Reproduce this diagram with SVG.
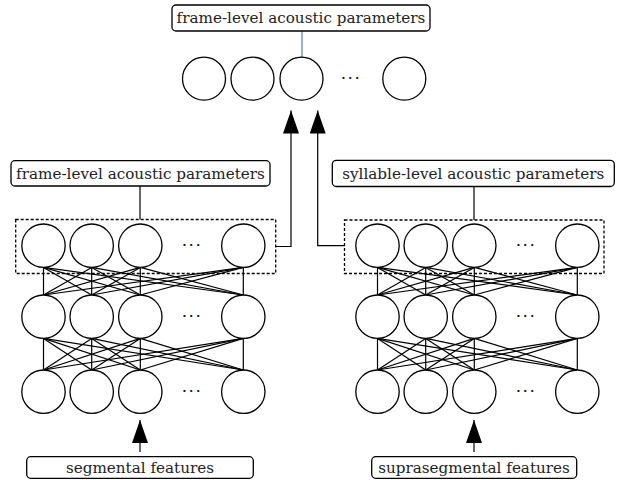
<svg xmlns="http://www.w3.org/2000/svg" width="624" height="480" viewBox="0 0 624 480">
<style>
.node circle{fill:#fff;stroke:#000;stroke-width:1.3}
.lbl rect{fill:#fff;stroke:#000;stroke-width:1.3}
.t{font-family:'DejaVu Serif','Liberation Serif',serif;font-size:15.2px;fill:#222;text-anchor:middle}
.dots{font-family:'DejaVu Serif',serif;font-size:17px;fill:#111;text-anchor:middle;letter-spacing:1.5px}
.dbox{fill:none;stroke:#000;stroke-width:1.3;stroke-dasharray:3 2}
#connectors line,#connectors path{stroke:#000;stroke-width:1.2;fill:none}
</style>
<defs>
<marker id="ah" markerUnits="userSpaceOnUse" markerWidth="24" markerHeight="16" refX="23" refY="8" orient="auto">
<path d="M0,0 L23,8 L0,16 z" fill="#000"/>
</marker>
</defs>
<rect width="624" height="480" fill="#fff"/>

<g id="connectors">
<line x1="302" y1="31" x2="302" y2="57.5" style="stroke:#4f7cba"/>
<line x1="140" y1="186" x2="140" y2="219.5"/>
<line x1="474" y1="186.5" x2="474" y2="220"/>
<path d="M275.7,246.5 H291 V110.5" marker-end="url(#ah)"/>
<path d="M345,245.7 H317.7 V110.5" marker-end="url(#ah)"/>
<line x1="140" y1="452" x2="140" y2="420" marker-end="url(#ah)"/>
<line x1="474" y1="452" x2="474" y2="420" marker-end="url(#ah)"/>
<line x1="43.5" y1="267.4" x2="43.5" y2="295"/><line x1="43.5" y1="267.4" x2="91.7" y2="295"/><line x1="43.5" y1="267.4" x2="140.3" y2="295"/><line x1="43.5" y1="267.4" x2="243.3" y2="295"/>
<line x1="91.7" y1="267.4" x2="43.5" y2="295"/><line x1="91.7" y1="267.4" x2="91.7" y2="295"/><line x1="91.7" y1="267.4" x2="140.3" y2="295"/><line x1="91.7" y1="267.4" x2="243.3" y2="295"/>
<line x1="140.3" y1="267.4" x2="43.5" y2="295"/><line x1="140.3" y1="267.4" x2="91.7" y2="295"/><line x1="140.3" y1="267.4" x2="140.3" y2="295"/><line x1="140.3" y1="267.4" x2="243.3" y2="295"/>
<line x1="243.3" y1="267.4" x2="43.5" y2="295"/><line x1="243.3" y1="267.4" x2="91.7" y2="295"/><line x1="243.3" y1="267.4" x2="140.3" y2="295"/><line x1="243.3" y1="267.4" x2="243.3" y2="295"/>
<line x1="43.5" y1="338.4" x2="43.5" y2="370"/><line x1="43.5" y1="338.4" x2="91.7" y2="370"/><line x1="43.5" y1="338.4" x2="140.3" y2="370"/><line x1="43.5" y1="338.4" x2="243.3" y2="370"/>
<line x1="91.7" y1="338.4" x2="43.5" y2="370"/><line x1="91.7" y1="338.4" x2="91.7" y2="370"/><line x1="91.7" y1="338.4" x2="140.3" y2="370"/><line x1="91.7" y1="338.4" x2="243.3" y2="370"/>
<line x1="140.3" y1="338.4" x2="43.5" y2="370"/><line x1="140.3" y1="338.4" x2="91.7" y2="370"/><line x1="140.3" y1="338.4" x2="140.3" y2="370"/><line x1="140.3" y1="338.4" x2="243.3" y2="370"/>
<line x1="243.3" y1="338.4" x2="43.5" y2="370"/><line x1="243.3" y1="338.4" x2="91.7" y2="370"/><line x1="243.3" y1="338.4" x2="140.3" y2="370"/><line x1="243.3" y1="338.4" x2="243.3" y2="370"/>
<line x1="377.5" y1="267.4" x2="377.5" y2="295"/><line x1="377.5" y1="267.4" x2="425.7" y2="295"/><line x1="377.5" y1="267.4" x2="474.3" y2="295"/><line x1="377.5" y1="267.4" x2="577.3" y2="295"/>
<line x1="425.7" y1="267.4" x2="377.5" y2="295"/><line x1="425.7" y1="267.4" x2="425.7" y2="295"/><line x1="425.7" y1="267.4" x2="474.3" y2="295"/><line x1="425.7" y1="267.4" x2="577.3" y2="295"/>
<line x1="474.3" y1="267.4" x2="377.5" y2="295"/><line x1="474.3" y1="267.4" x2="425.7" y2="295"/><line x1="474.3" y1="267.4" x2="474.3" y2="295"/><line x1="474.3" y1="267.4" x2="577.3" y2="295"/>
<line x1="577.3" y1="267.4" x2="377.5" y2="295"/><line x1="577.3" y1="267.4" x2="425.7" y2="295"/><line x1="577.3" y1="267.4" x2="474.3" y2="295"/><line x1="577.3" y1="267.4" x2="577.3" y2="295"/>
<line x1="377.5" y1="338.4" x2="377.5" y2="370"/><line x1="377.5" y1="338.4" x2="425.7" y2="370"/><line x1="377.5" y1="338.4" x2="474.3" y2="370"/><line x1="377.5" y1="338.4" x2="577.3" y2="370"/>
<line x1="425.7" y1="338.4" x2="377.5" y2="370"/><line x1="425.7" y1="338.4" x2="425.7" y2="370"/><line x1="425.7" y1="338.4" x2="474.3" y2="370"/><line x1="425.7" y1="338.4" x2="577.3" y2="370"/>
<line x1="474.3" y1="338.4" x2="377.5" y2="370"/><line x1="474.3" y1="338.4" x2="425.7" y2="370"/><line x1="474.3" y1="338.4" x2="474.3" y2="370"/><line x1="474.3" y1="338.4" x2="577.3" y2="370"/>
<line x1="577.3" y1="338.4" x2="377.5" y2="370"/><line x1="577.3" y1="338.4" x2="425.7" y2="370"/><line x1="577.3" y1="338.4" x2="474.3" y2="370"/><line x1="577.3" y1="338.4" x2="577.3" y2="370"/>
</g>

<rect class="dbox" x="15.7" y="219.5" width="260" height="54"/>
<rect class="dbox" x="344.5" y="220" width="259.5" height="53.5"/>

<g id="label-top" class="lbl"><rect x="172" y="5" width="258" height="26" rx="4"/><text class="t" x="301" y="23">frame-level acoustic parameters</text></g>
<g id="label-frame" class="lbl"><rect x="11" y="160.7" width="259" height="25.3" rx="4"/><text class="t" x="140.5" y="178.5">frame-level acoustic parameters</text></g>
<g id="label-syllable" class="lbl"><rect x="332.3" y="160.3" width="282" height="26.2" rx="4"/><text class="t" x="473.3" y="178.5">syllable-level acoustic parameters</text></g>
<g id="label-segmental" class="lbl"><rect x="26.7" y="456.7" width="226.6" height="21.6" rx="4"/><text class="t" x="140" y="472.5">segmental features</text></g>
<g id="label-supra" class="lbl"><rect x="371.7" y="456.7" width="205" height="21.6" rx="4"/><text class="t" x="474" y="472.5">suprasegmental features</text></g>

<g id="out" class="node">
<circle cx="204" cy="78.7" r="21.5"/><circle cx="252.5" cy="78.7" r="21.5"/><circle cx="301.5" cy="78.7" r="21.5"/><circle cx="404.3" cy="78.7" r="21.5"/>
<text class="dots" x="351" y="84">···</text>
</g>
<g id="left-l1" class="node">
<circle cx="43.5" cy="245.7" r="21.7"/><circle cx="91.7" cy="245.7" r="21.7"/><circle cx="140.3" cy="245.7" r="21.7"/><circle cx="243.3" cy="245.7" r="21.7"/>
<text class="dots" x="192" y="251">···</text>
</g>
<g id="left-l2" class="node">
<circle cx="43.5" cy="316.7" r="21.7"/><circle cx="91.7" cy="316.7" r="21.7"/><circle cx="140.3" cy="316.7" r="21.7"/><circle cx="243.3" cy="316.7" r="21.7"/>
<text class="dots" x="192" y="322">···</text>
</g>
<g id="left-l3" class="node">
<circle cx="43.5" cy="391.7" r="21.7"/><circle cx="91.7" cy="391.7" r="21.7"/><circle cx="140.3" cy="391.7" r="21.7"/><circle cx="243.3" cy="391.7" r="21.7"/>
<text class="dots" x="192" y="397">···</text>
</g>
<g id="right-l1" class="node">
<circle cx="377.5" cy="245.7" r="21.7"/><circle cx="425.7" cy="245.7" r="21.7"/><circle cx="474.3" cy="245.7" r="21.7"/><circle cx="577.3" cy="245.7" r="21.7"/>
<text class="dots" x="526" y="251">···</text>
</g>
<g id="right-l2" class="node">
<circle cx="377.5" cy="316.7" r="21.7"/><circle cx="425.7" cy="316.7" r="21.7"/><circle cx="474.3" cy="316.7" r="21.7"/><circle cx="577.3" cy="316.7" r="21.7"/>
<text class="dots" x="526" y="322">···</text>
</g>
<g id="right-l3" class="node">
<circle cx="377.5" cy="391.7" r="21.7"/><circle cx="425.7" cy="391.7" r="21.7"/><circle cx="474.3" cy="391.7" r="21.7"/><circle cx="577.3" cy="391.7" r="21.7"/>
<text class="dots" x="526" y="397">···</text>
</g>
</svg>
